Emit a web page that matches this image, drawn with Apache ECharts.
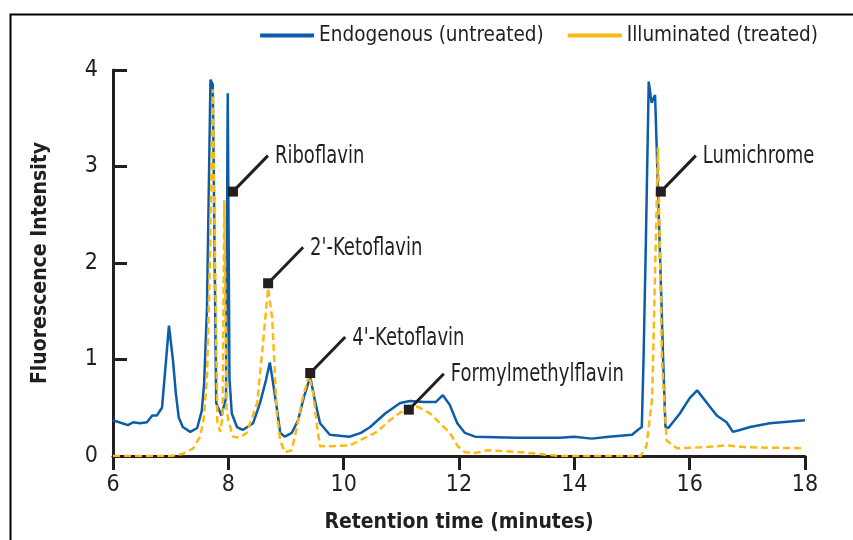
<!DOCTYPE html>
<html>
<head>
<meta charset="utf-8">
<script src="https://cdn.jsdelivr.net/npm/echarts@6/dist/echarts.min.js"></script>
<style>
  html, body { margin: 0; padding: 0; background: #fff; }
  #chart { width: 853px; height: 540px; }
</style>
</head>
<body>
<div id="chart"></div>
<script>
// retention time (min), fluorescence intensity
var endogenous = [
  [6.0,0.37],[6.16,0.34],[6.26,0.32],[6.35,0.35],[6.47,0.34],[6.59,0.35],[6.68,0.42],[6.76,0.42],
  [6.85,0.5],[6.92,0.99],[6.97,1.35],[7.04,0.99],[7.09,0.65],[7.14,0.4],[7.21,0.3],[7.34,0.25],
  [7.46,0.29],[7.54,0.47],[7.58,0.75],[7.63,1.54],[7.69,3.9],[7.73,3.85],[7.79,0.55],[7.88,0.42],
  [7.96,0.6],[7.99,3.76],[8.02,0.8],[8.06,0.44],[8.15,0.3],[8.25,0.27],[8.43,0.34],[8.55,0.55],
  [8.65,0.78],[8.72,0.97],[8.77,0.78],[8.84,0.5],[8.9,0.24],[8.98,0.2],[9.1,0.24],[9.21,0.37],
  [9.31,0.61],[9.42,0.82],[9.5,0.58],[9.59,0.34],[9.76,0.22],[10.1,0.2],[10.3,0.24],[10.46,0.3],
  [10.72,0.44],[10.98,0.55],[11.15,0.57],[11.4,0.56],[11.6,0.56],[11.72,0.63],[11.84,0.53],[11.97,0.34],
  [12.1,0.24],[12.28,0.2],[13.0,0.19],[13.75,0.19],[14.0,0.2],[14.3,0.18],[14.6,0.2],[15.0,0.22],
  [15.1,0.27],[15.17,0.3],[15.2,1.0],[15.24,2.2],[15.29,3.88],[15.34,3.66],[15.4,3.74],[15.49,2.0],
  [15.54,1.0],[15.58,0.3],[15.63,0.29],[15.83,0.44],[16.0,0.6],[16.13,0.68],[16.3,0.55],[16.47,0.42],
  [16.64,0.35],[16.75,0.25],[16.87,0.27],[17.05,0.3],[17.39,0.34],[18.0,0.37]
];
var illuminated = [
  [6.0,0.0],[7.0,0.0],[7.2,0.02],[7.39,0.08],[7.51,0.2],[7.57,0.37],[7.63,0.82],[7.68,2.0],
  [7.73,3.8],[7.77,2.0],[7.81,0.35],[7.86,0.25],[7.9,0.4],[7.93,2.65],[7.97,0.5],[8.0,0.37],
  [8.08,0.2],[8.2,0.19],[8.32,0.24],[8.5,0.55],[8.6,1.16],[8.69,1.74],[8.76,1.43],[8.81,0.82],
  [8.84,0.44],[8.9,0.16],[8.98,0.04],[9.1,0.06],[9.19,0.3],[9.28,0.58],[9.4,0.84],[9.47,0.65],
  [9.54,0.3],[9.59,0.1],[9.76,0.1],[10.11,0.11],[10.34,0.18],[10.58,0.25],[10.8,0.37],[10.98,0.45],
  [11.15,0.5],[11.24,0.52],[11.32,0.5],[11.5,0.44],[11.67,0.34],[11.84,0.24],[11.98,0.1],[12.1,0.04],
  [12.28,0.03],[12.49,0.06],[12.8,0.05],[13.06,0.04],[13.75,0.0],[15.15,0.0],[15.25,0.1],[15.35,0.6],
  [15.45,3.2],[15.52,1.0],[15.6,0.16],[15.78,0.08],[16.2,0.09],[16.65,0.11],[17.0,0.09],[18.0,0.08]
];
var seriesNames = ['Endogenous (untreated)', 'Illuminated (treated)'];
var peakLabels = ['Riboflavin', "2'-Ketoflavin", "4'-Ketoflavin", 'Formylmethylflavin', 'Lumichrome'];
var peakTimes = [8.08, 8.69, 9.42, 11.13, 15.5];
var peakValues = [2.74, 1.79, 0.86, 0.48, 2.74];

var ink = '#231f20';
var narrow = "'Liberation Sans Narrow', 'DejaVu Sans Condensed', 'Arial Narrow', sans-serif";

var chart = echarts.init(document.getElementById('chart'));
chart.setOption({
  backgroundColor: '#fff',
  animation: false,
  graphic: [{
    type: 'rect',
    left: 8, top: 12,
    shape: { width: 900, height: 600 },
    style: { fill: 'none', stroke: '#000', lineWidth: 2 }
  }],
  grid: { left: 113, right: 48, top: 70, bottom: 84 },
  legend: {
    data: seriesNames,
    right: 30, top: 20,
    icon: 'rect',
    itemWidth: 54, itemHeight: 4, itemGap: 24,
    textStyle: { fontFamily: narrow, fontSize: 20.5, color: ink }
  },
  xAxis: {
    type: 'value',
    min: 6, max: 18, interval: 2,
    name: 'Retention time (minutes)',
    nameLocation: 'middle',
    nameGap: 56,
    nameTextStyle: { fontFamily: narrow, fontSize: 21, fontWeight: 'bold', color: ink },
    axisLine: { lineStyle: { color: ink, width: 3 } },
    axisTick: { length: 14, lineStyle: { color: ink, width: 3 } },
    axisLabel: { margin: 18, fontFamily: narrow, fontSize: 23, color: ink },
    splitLine: { show: false }
  },
  yAxis: {
    type: 'value',
    min: 0, max: 4, interval: 1,
    name: 'Fluorescence Intensity',
    nameLocation: 'middle',
    nameGap: 62,
    nameTextStyle: { fontFamily: narrow, fontSize: 21, fontWeight: 'bold', color: ink },
    axisLine: { show: true, lineStyle: { color: ink, width: 3 } },
    axisTick: { show: true, inside: true, length: 14, lineStyle: { color: ink, width: 3 } },
    axisLabel: { margin: 15, fontFamily: narrow, fontSize: 23, color: ink },
    splitLine: { show: false }
  },
  series: [
    {
      name: seriesNames[0],
      type: 'line',
      data: endogenous,
      symbol: 'none',
      color: '#0b5daa',
      lineStyle: { width: 2.5, color: '#0b5daa' },
      z: 2
    },
    {
      name: seriesNames[1],
      type: 'line',
      data: illuminated,
      symbol: 'none',
      color: '#fdb913',
      lineStyle: { width: 2.5, color: '#fdb913', type: [7, 4] },
      z: 3
    },
    {
      type: 'custom',
      z: 5,
      data: peakTimes.map(function (t, i) { return [t, peakValues[i]]; }),
      renderItem: function (params, api) {
        var p = api.coord([api.value(0), api.value(1)]);
        var ex = p[0] + 35, ey = p[1] - 36;
        return {
          type: 'group',
          children: [
            { type: 'line', shape: { x1: p[0], y1: p[1], x2: ex, y2: ey },
              style: { stroke: ink, lineWidth: 3 } },
            { type: 'rect', shape: { x: p[0] - 5, y: p[1] - 5, width: 10, height: 10 },
              style: { fill: ink } },
            { type: 'text', x: ex + 7, y: ey + 1, scaleX: 0.8,
              style: { x: 0, y: 0, text: peakLabels[params.dataIndex], fill: ink, fontFamily: narrow,
                       fontSize: 25, align: 'left', verticalAlign: 'middle' } }
          ]
        };
      }
    }
  ]
});
</script>
</body>
</html>
